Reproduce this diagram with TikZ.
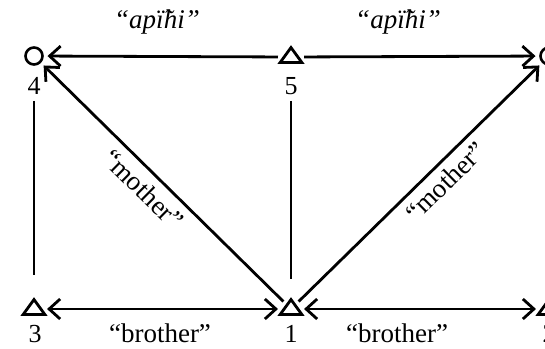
\documentclass[tikz,border=0pt]{standalone}
\usepackage{fontspec}
\setmainfont{Liberation Serif}
\usetikzlibrary{arrows.meta,shapes.geometric}
\tikzset{
  kin/.style={line width=2.8pt},
  fem/.style={circle,draw,line width=2.6pt,minimum size=17pt,inner sep=0pt,outer sep=5pt},
  male/.style={isosceles triangle,isosceles triangle apex angle=72,shape border rotate=90,
    draw,line width=2.8pt,minimum height=15pt,inner sep=0pt,outer sep=5pt},
  num/.style={font=\fontsize{26}{30}\selectfont,inner sep=2pt},
  term/.style={font=\fontsize{27}{31}\selectfont},
}
\begin{document}
\begin{tikzpicture}[x=1pt,y=-1pt,>={Straight Barb[length=11pt,width=20pt]}]
    \useasboundingbox (0,0) rectangle (545,348);
    \clip (0,0) rectangle (545,348);
    % people
    \node[fem]  (n4) at (34,56) {};
    \node[male] (n5) at (291,57) {};
    \node[fem]  (n6) at (549,56) {};
    \node[male] (n3) at (34,309) {};
    \node[male] (n1) at (291,309) {};
    \node[male] (n2) at (549,309) {};
    % numbers
    \node[num] (l4) at (34,86) {4};
    \node[num] (l5) at (291,86) {5};
    \node[num] (l6) at (551,86) {6};
    \node[num] (l3) at (35,334) {3};
    \node[num] (l1) at (291,334) {1};
    \node[num] (l2) at (549,334) {2};
    % vertical ties
    \draw[kin,shorten <=4pt,shorten >=16pt] (l4) -- (n3);
    \draw[kin,shorten <=4pt,shorten >=12pt] (l5) -- (n1);
    \draw[kin,shorten <=4pt,shorten >=16pt] (l6) -- (n2);
    % top arrows
    \draw[kin,->] (n5) -- (n4);
    \draw[kin,->] (n5) -- (n6);
    % bottom arrows
    \draw[kin,<->] (n3) -- (n1);
    \draw[kin,<->] (n1) -- (n2);
    % diagonals
    \draw[kin,->] (n1) -- node[term,sloped,below=4pt,pos=0.53] {``mother''} (n4);
    \draw[kin,->] (n1) -- node[term,sloped,below=3pt,pos=0.56] {``mother''} (n6);
    % terms
    \node[term] (t54) at (157,22) {\textit{``apï^^^^0303hi''}};
    \node[term] (t56) at (398,22) {\textit{``apï^^^^0303hi''}};
    \node[term] (t31) at (160,333) {``brother''};
    \node[term] (t12) at (397,333) {``brother''};
\end{tikzpicture}
\end{document}
